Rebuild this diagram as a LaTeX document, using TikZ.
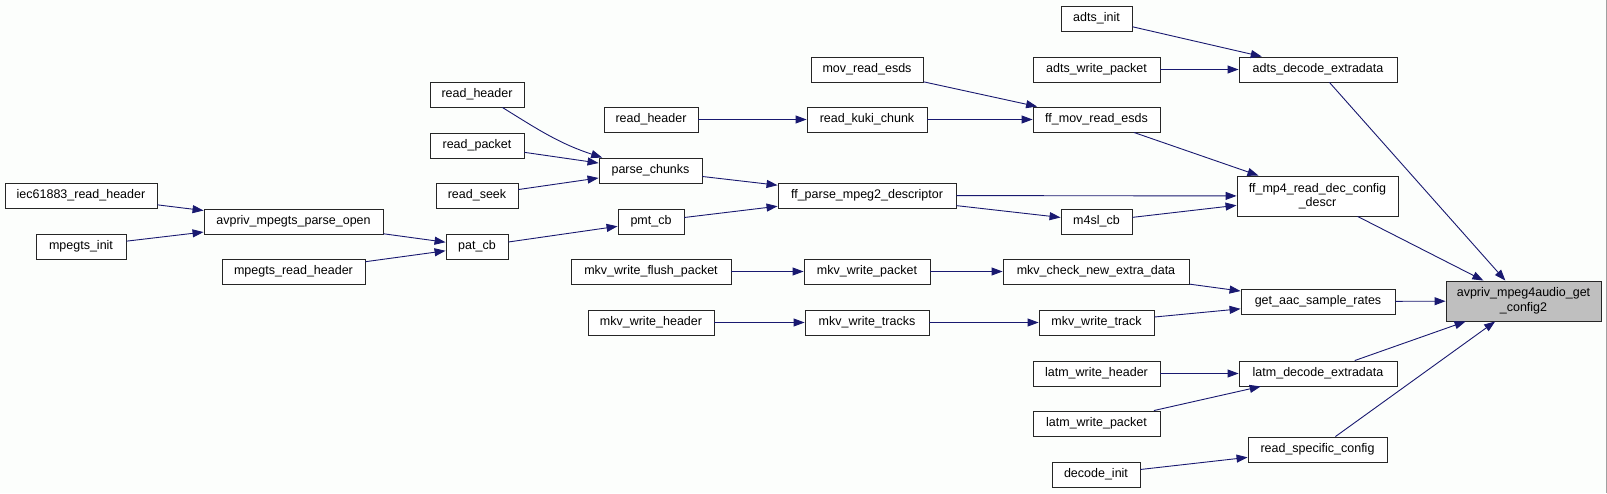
\documentclass[tikz,border=0pt]{standalone}
\usepackage{fontspec}
\setmainfont{Liberation Sans}
\usetikzlibrary{arrows.meta}
\definecolor{edgeblue}{RGB}{25,25,112}
\definecolor{bgcol}{RGB}{252,254,252}
\definecolor{targetfill}{RGB}{191,191,191}
\definecolor{framegray}{RGB}{160,160,160}
\tikzset{
  fn/.style={draw=black!85, line width=0.9pt, fill=white, inner sep=0pt, align=center,
    font=\fontsize{12.5}{14.5}\selectfont, minimum height=25pt},
  tgt/.style={fn, fill=targetfill, minimum height=40pt},
  e/.style={draw=edgeblue, line width=0.9pt, -{Triangle[length=11pt,width=8pt,fill=edgeblue]}}
}
\begin{document}
\begin{tikzpicture}[x=1pt,y=-1pt]
\fill[bgcol] (0,0) rectangle (1607,493);
\useasboundingbox (0,0) rectangle (1607,493);
\draw[framegray, line width=1pt] (1606.5,0) -- (1606.5,493);

% nodes
\node[fn, minimum width=71pt]  (adtsinit) at (1096.5,18.5) {adts\_init};
\node[fn, minimum width=127pt] (adtswp)   at (1096.5,69.5) {adts\_write\_packet};
\node[fn, minimum width=158pt] (adtsdec)  at (1318,69.5)   {adts\_decode\_extradata};
\node[fn, minimum width=112pt] (movesds)  at (867,69.5)    {mov\_read\_esds};
\node[fn, minimum width=94pt]  (rhM)      at (651,119.5)   {read\_header};
\node[fn, minimum width=120pt] (kuki)     at (867,119.5)   {read\_kuki\_chunk};
\node[fn, minimum width=127pt] (ffmov)    at (1096.5,119.5) {ff\_mov\_read\_esds};
\node[fn, minimum width=161pt, minimum height=40pt] (ffmp4) at (1317.5,196) {ff\_mp4\_read\_dec\_config\\\_descr};
\node[fn, minimum width=178pt] (ffparse)  at (867,195.5)   {ff\_parse\_mpeg2\_descriptor};
\node[fn, minimum width=71pt]  (m4sl)     at (1096.5,221.5) {m4sl\_cb};
\node[fn, minimum width=103pt] (pc)       at (650.5,170.5) {parse\_chunks};
\node[fn, minimum width=66pt]  (pmt)      at (651,221.5)   {pmt\_cb};
\node[fn, minimum width=94pt]  (rhL)      at (477,94.5)    {read\_header};
\node[fn, minimum width=94pt]  (rp)       at (477,145.5)   {read\_packet};
\node[fn, minimum width=82pt]  (rs)       at (477,195.5)   {read\_seek};
\node[fn, minimum width=62pt]  (pat)      at (477,246.5)   {pat\_cb};
\node[fn, minimum width=179pt] (apo)      at (293.5,221.5) {avpriv\_mpegts\_parse\_open};
\node[fn, minimum width=143pt] (mrh)      at (293.5,271.5) {mpegts\_read\_header};
\node[fn, minimum width=152pt] (iec)      at (81,195.5)    {iec61883\_read\_header};
\node[fn, minimum width=90pt]  (mi)       at (81,246.5)    {mpegts\_init};
\node[fn, minimum width=160pt] (mwfp)     at (651,271.5)   {mkv\_write\_flush\_packet};
\node[fn, minimum width=126pt] (mwp)      at (867,271.5)   {mkv\_write\_packet};
\node[fn, minimum width=186pt] (mcned)    at (1096,271.5)  {mkv\_check\_new\_extra\_data};
\node[fn, minimum width=154pt] (gaac)     at (1318,301.5)  {get\_aac\_sample\_rates};
\node[fn, minimum width=126pt] (mwh)      at (651,322.5)   {mkv\_write\_header};
\node[fn, minimum width=124pt] (mwts)     at (867,322.5)   {mkv\_write\_tracks};
\node[fn, minimum width=115pt] (mwt)      at (1096.5,322.5) {mkv\_write\_track};
\node[fn, minimum width=127pt] (lwh)      at (1096.5,373.5) {latm\_write\_header};
\node[fn, minimum width=158pt] (ldec)     at (1318,373.5)  {latm\_decode\_extradata};
\node[fn, minimum width=127pt] (lwp)      at (1096.5,423.5) {latm\_write\_packet};
\node[fn, minimum width=139pt] (rsc)      at (1317.5,449.5) {read\_specific\_config};
\node[fn, minimum width=88pt]  (di)       at (1096,474.5)  {decode\_init};
\node[tgt, minimum width=155pt] (target)  at (1523.5,301)  {avpriv\_mpeg4audio\_get\\\_config2};

% edges
\draw[e] (adtsinit) -- (adtsdec);
\draw[e] (adtswp) -- (adtsdec);
\draw[e] (adtsdec) -- (target);
\draw[e] (movesds) -- (ffmov);
\draw[e] (kuki) -- (ffmov);
\draw[e] (rhM) -- (kuki);
\draw[e] (ffmov) -- (ffmp4);
\draw[e] (ffparse) -- (ffmp4);
\draw[e] (ffparse) -- (m4sl);
\draw[e] (m4sl) -- (ffmp4);
\draw[e] (ffmp4) -- (target);
\draw[e] (pc) -- (ffparse);
\draw[e] (pmt) -- (ffparse);
\draw[e] (rhL.-27) to[out=-32,in=162] (pc.165);
\draw[e] (rp) -- (pc);
\draw[e] (rs) -- (pc);
\draw[e] (pat) -- (pmt);
\draw[e] (apo) -- (pat);
\draw[e] (mrh) -- (pat);
\draw[e] (iec) -- (apo);
\draw[e] (mi) -- (apo);
\draw[e] (mwfp) -- (mwp);
\draw[e] (mwp) -- (mcned);
\draw[e] (mcned) -- (gaac);
\draw[e] (mwh) -- (mwts);
\draw[e] (mwts) -- (mwt);
\draw[e] (mwt) -- (gaac);
\draw[e] (gaac) -- (target);
\draw[e] (ldec) -- (target);
\draw[e] (lwh) -- (ldec);
\draw[e] (lwp) -- (ldec);
\draw[e] (rsc) -- (target);
\draw[e] (di) -- (rsc);
\end{tikzpicture}
\end{document}
